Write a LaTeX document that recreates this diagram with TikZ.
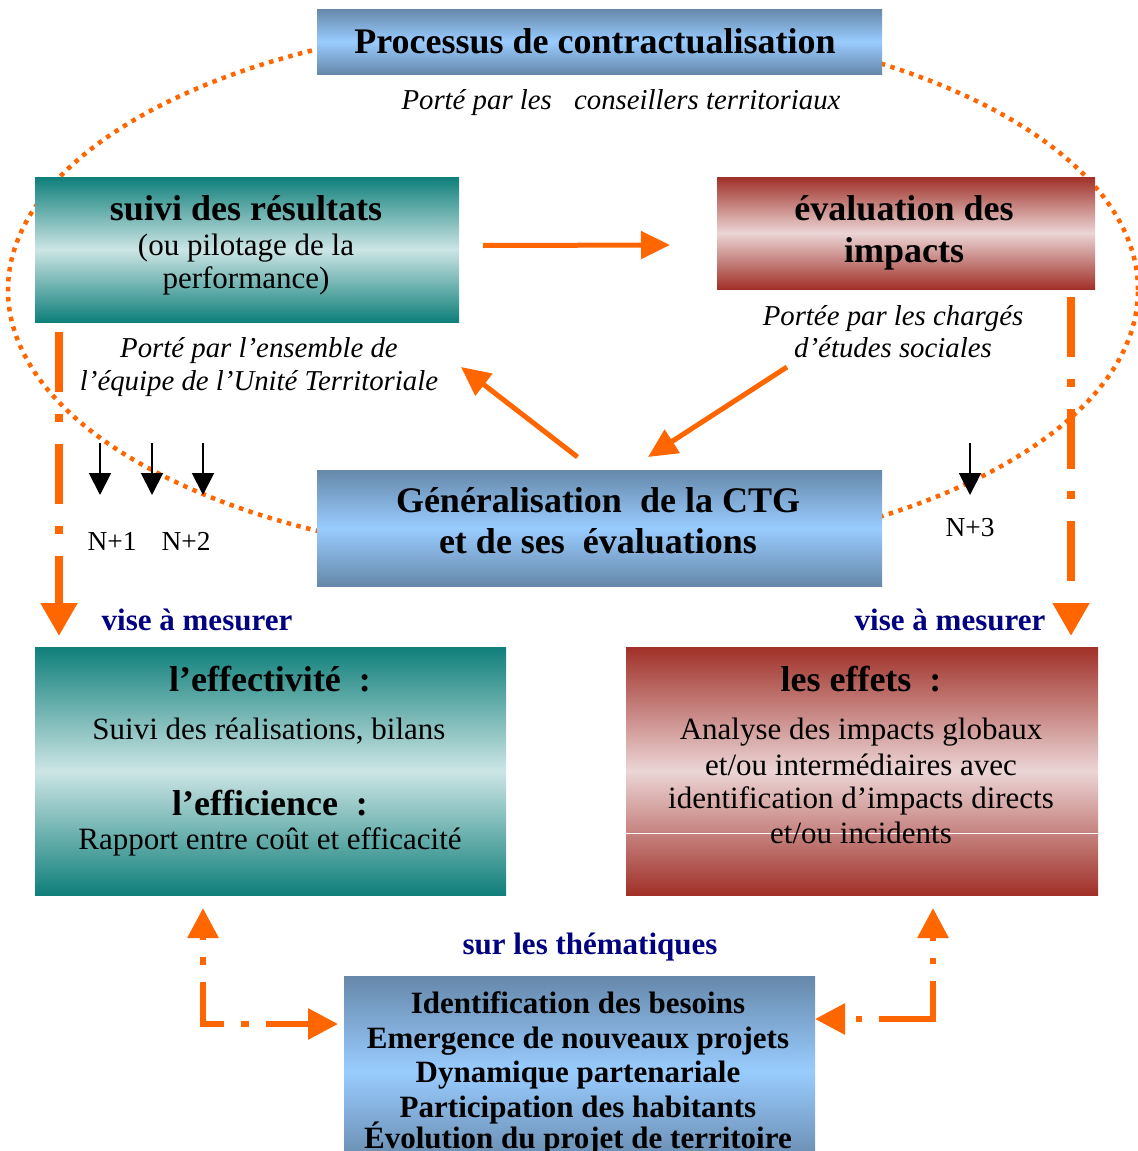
\documentclass[tikz,border=0pt]{standalone}
\usepackage{fontspec}
\setmainfont{Liberation Serif}
\usetikzlibrary{arrows.meta,fit,calc}
\definecolor{orng}{HTML}{FF6600}
\definecolor{bdark}{HTML}{6688AA}
\definecolor{blight}{HTML}{99CCFF}
\definecolor{tdark}{HTML}{0F7F7A}
\definecolor{tlight}{HTML}{CCE5E5}
\definecolor{rdark}{HTML}{A03028}
\definecolor{rlight}{HTML}{EBD5D5}
\definecolor{navyblue}{HTML}{000080}
\begin{document}
\begin{tikzpicture}[x=0.5pt,y=-0.5pt,
  box/.style={inner sep=0pt, outer sep=0pt, draw=none},
  bluebox/.style={box, top color=bdark, bottom color=bdark, middle color=blight},
  tealbox/.style={box, top color=tdark, bottom color=tdark, middle color=tlight},
  redbox/.style={box, top color=rdark, bottom color=rdark, middle color=rlight},
  tbig/.style={font=\fontsize{18}{20}\selectfont\bfseries, inner sep=0pt, anchor=base},
  treg/.style={font=\fontsize{15.5}{17}\selectfont, inner sep=0pt, anchor=base},
  tital/.style={font=\fontsize{14.4}{16}\selectfont\itshape, inner sep=0pt, anchor=base},
  tnavy/.style={font=\fontsize{15.5}{17}\selectfont\bfseries, text=navyblue, inner sep=0pt, anchor=base},
  tbold/.style={font=\fontsize{15.5}{17}\selectfont\bfseries, inner sep=0pt, anchor=base},
  tyear/.style={font=\fontsize{13.7}{15}\selectfont, inner sep=0pt, anchor=base},
  orarrow/.style={draw=orng, line width=2.5pt, -{Triangle[length=14.5pt,width=13.5pt]}},
  vdash/.style={draw=orng, line width=4pt, dash pattern=on 30pt off 11pt on 4pt off 11pt, -{Triangle[length=16.5pt,width=17.5pt]}},
  blkarrow/.style={draw=black, line width=1pt, -{Triangle[length=11pt,width=11pt]}},
  ovalline/.style={draw=orng, line width=2.25pt, dash pattern=on 2.25pt off 2.75pt}
]
\useasboundingbox (0,0) rectangle (1138,1151);
\clip (0,0) rectangle (1138,1151);

% dotted cycle
\draw[ovalline] (573,290) ellipse [x radius=282.5pt, y radius=135pt];

% boxes
\node[bluebox, fit={(317,9) (882,74)}] (proc) {};
\node[tealbox, fit={(35,177) (459,322)}] (suivi) {};
\node[redbox, fit={(717,177) (1095,289)}] (evalb) {};
\node[bluebox, fit={(317,470) (882,586)}] (gen) {};
\node[tealbox, fit={(35,647) (506,895)}] (eff) {};
\node[redbox, fit={(626,647) (1098,895)}] (effets) {};
\node[bluebox, fit={(344,976) (815,1166)}] (bot) {};
\draw[white, line width=0.5pt] ($(effets.west)+(0,62)$) -- ($(effets.east)+(0,62)$);

% texts
\node[tbig] (t-proc) at (595,53) {Processus de contractualisation};
\node[tital] (t-cons) at (621,109) {Porté par les\hspace{7.5pt} conseillers territoriaux};

\node[tbig] (t-suivi1) at (246,220) {suivi des résultats};
\node[treg] (t-suivi2) at (246,255) {(ou pilotage de la};
\node[treg] (t-suivi3) at (246,288) {performance)};

\node[tbig] (t-eval1) at (904,220) {évaluation des};
\node[tbig] (t-eval2) at (904,262) {impacts};

\node[tital] (t-ch1) at (893,325) {Portée par les chargés};
\node[tital] (t-ch2) at (893,357) {d’études sociales};

\node[tital] (t-ens1) at (259,357) {Porté par l’ensemble de};
\node[tital] (t-ens2) at (259,390) {l’équipe de l’Unité Territoriale};

\node[tbig] (t-gen1) at (598,512) {Généralisation\ \ de la CTG};
\node[tbig] (t-gen2) at (598,553) {et de ses\ \ évaluations};

\node[tyear] (n1) at (112,550) {N+1};
\node[tyear] (n2) at (186,550) {N+2};
\node[tyear] (n3) at (970,536) {N+3};

\node[tnavy] (vise1) at (197,630) {vise à mesurer};
\node[tnavy] (vise2) at (950,630) {vise à mesurer};

\node[tbig] (t-eff1) at (270,691) {l’effectivité~ :};
\node[treg] (t-eff2) at (269,739) {Suivi des réalisations, bilans};
\node[tbig] (t-eff3) at (270,815) {l’efficience~ :};
\node[treg] (t-eff4) at (270,849) {Rapport entre coût et efficacité};

\node[tbig] (t-ef1) at (861,691) {les effets~ :};
\node[treg] (t-ef2) at (861,739) {Analyse des impacts globaux};
\node[treg] (t-ef3) at (861,775) {et/ou intermédiaires avec};
\node[treg] (t-ef4) at (861,808) {identification d’impacts directs};
\node[treg] (t-ef5) at (861,843) {et/ou incidents};

\node[tnavy] (sur) at (590,954) {sur les thématiques};

\node[tbold] (b1) at (578,1013) {Identification des besoins};
\node[tbold] (b2) at (578,1048) {Emergence de nouveaux projets};
\node[tbold] (b3) at (578,1082) {Dynamique partenariale};
\node[tbold] (b4) at (578,1117) {Participation des habitants};
\node[tbold] (b5) at (578,1148) {Évolution du projet de territoire};

% orange solid arrows
\draw[orarrow] ($(suivi.east)+(24,-4)$) -- ($(evalb.west)+(-47,12)$);
\draw[orarrow] ($(gen.north)+(-22,-13)$) -- ($(gen.north)+(-138.5,-103)$);
\draw[orarrow] ($(gen.north)+(187.5,-103)$) -- ($(gen.north)+(48.5,-13)$);

% dash-dot verticals
\draw[vdash] ($(suivi.south west)+(24,10)$) -- ($(eff.north west)+(24,-11)$);
\draw[vdash] ($(evalb.south east)+(-24,8)$) -- ($(effets.north east)+(-27,-11)$);

% bottom connectors
\draw[draw=orng, line width=3pt, dash pattern=on 31.5pt off 8.5pt on 4pt off 8.5pt, dash phase=30pt,
  {Triangle[length=15pt,width=15pt]}-{Triangle[length=15pt,width=15pt]}]
  ($(eff.south west)+(168,13)$) |- ($(bot.north west)+(-6,48)$);
\draw[draw=orng, line width=3pt, dash pattern=on 46.5pt off 8.5pt on 3pt off 8.5pt, dash phase=44.5pt,
  {Triangle[length=15pt,width=15pt]}-{Triangle[length=15pt,width=15pt]}]
  ($(effets.south west)+(307,13)$) |- ($(bot.north east)+(0,43)$);

% black year arrows
\coordinate (k1s) at (100,443); \coordinate (k1e) at (100,495);
\coordinate (k2s) at (152,443); \coordinate (k2e) at (152,495);
\coordinate (k3s) at (203,443); \coordinate (k3e) at (203,495);
\coordinate (k4s) at (970,443); \coordinate (k4e) at (970,495);
\draw[blkarrow] (k1s) -- (k1e);
\draw[blkarrow] (k2s) -- (k2e);
\draw[blkarrow] (k3s) -- (k3e);
\draw[blkarrow] (k4s) -- (k4e);
\end{tikzpicture}
\end{document}
